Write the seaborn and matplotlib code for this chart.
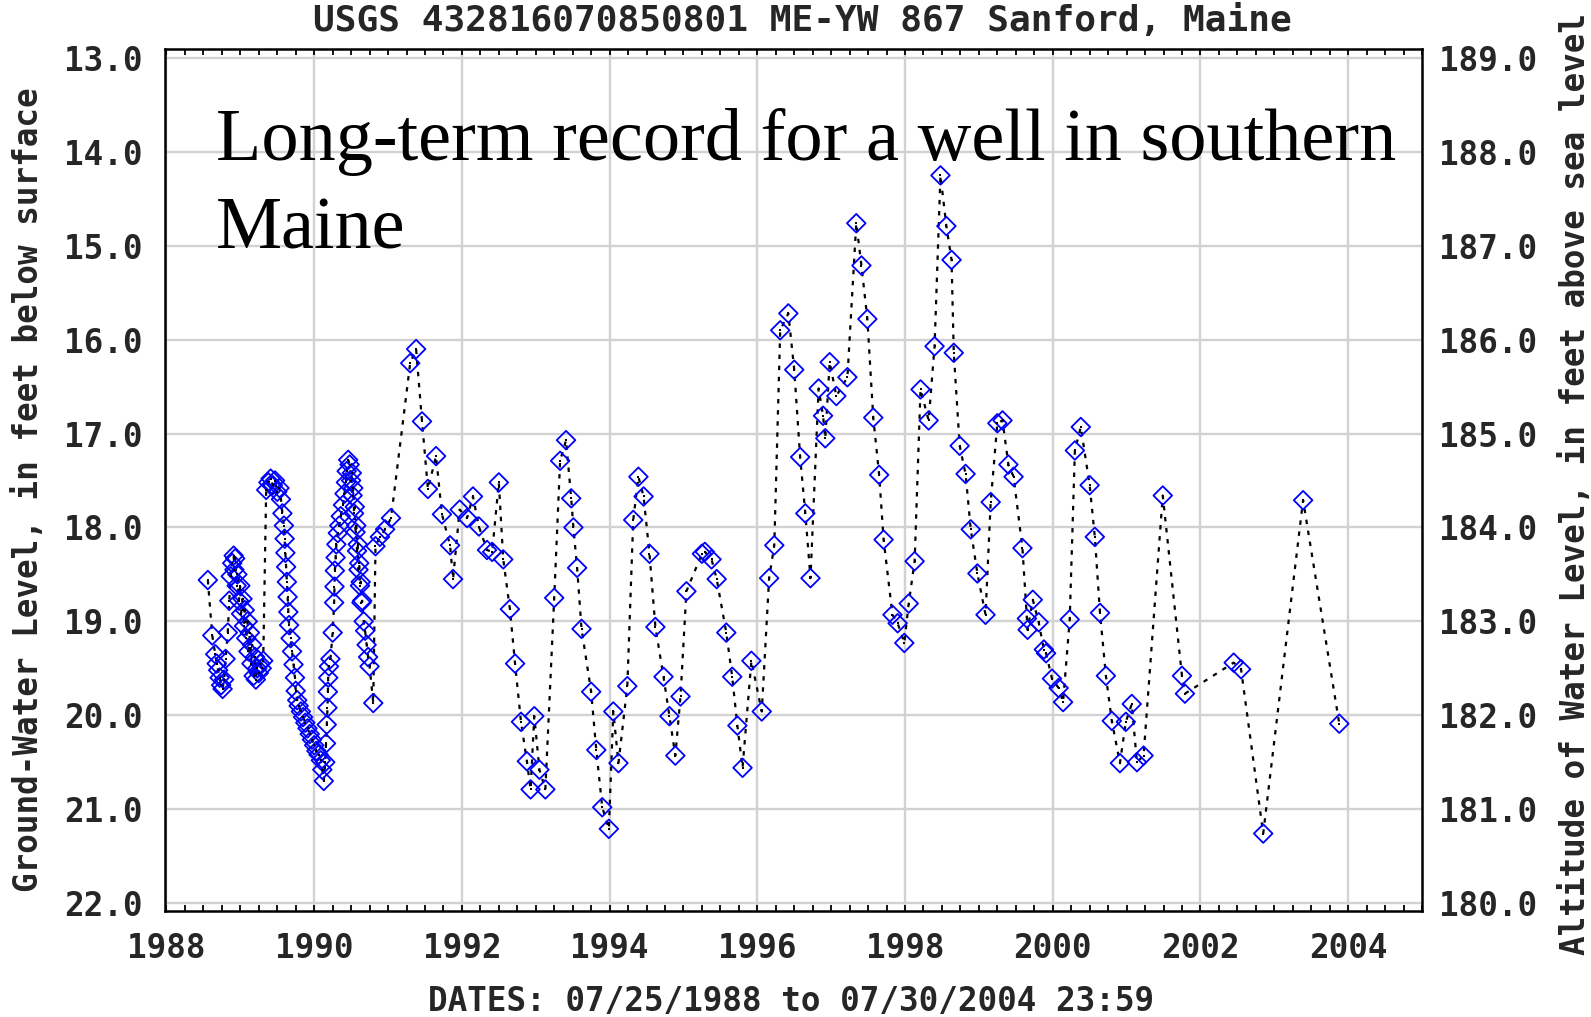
import numpy as np
import pandas as pd
import matplotlib
matplotlib.use("Agg")
import matplotlib.pyplot as plt
import seaborn as sns
from matplotlib.ticker import MultipleLocator

# ---------------- data (decimal year, depth below land surface in ft) ----------------
# 1988-1989 early record
dates_88 = [1988.56, 1988.62, 1988.66, 1988.68, 1988.70, 1988.72, 1988.74, 1988.76, 1988.78, 1988.80, 1988.83,
            1988.85, 1988.87, 1988.89, 1988.91, 1988.92, 1988.93, 1988.95, 1988.96, 1988.98, 1989.00,
            1989.01, 1989.03, 1989.05, 1989.06, 1989.08, 1989.10, 1989.11, 1989.13, 1989.15, 1989.16,
            1989.18, 1989.20, 1989.21, 1989.23, 1989.25, 1989.27, 1989.29, 1989.31]
depth_88 = [18.56, 19.15, 19.35, 19.45, 19.52, 19.60, 19.68, 19.72, 19.62, 19.40, 19.12,
            18.78, 18.52, 18.38, 18.30, 18.45, 18.33, 18.62, 18.50, 18.78, 18.62,
            18.92, 18.76, 19.05, 18.88, 19.18, 19.00, 19.32, 19.12, 19.45, 19.25,
            19.58, 19.38, 19.62, 19.50, 19.55, 19.45, 19.50, 19.42]

# 1989 high, decline to early 1990 low
dates_89 = [1989.35, 1989.38, 1989.41, 1989.44, 1989.47, 1989.50, 1989.53, 1989.55, 1989.57, 1989.59,
            1989.60, 1989.61, 1989.62, 1989.63, 1989.64, 1989.65, 1989.66, 1989.68, 1989.70, 1989.72,
            1989.74, 1989.75, 1989.77, 1989.79, 1989.82, 1989.85, 1989.88, 1989.91, 1989.94, 1989.97,
            1990.00, 1990.03, 1990.06, 1990.09, 1990.11, 1990.13]
depth_89 = [17.60, 17.52, 17.48, 17.55, 17.50, 17.62, 17.58, 17.70, 17.85, 17.98,
            18.12, 18.27, 18.42, 18.58, 18.74, 18.90, 19.04, 19.18, 19.32, 19.46,
            19.60, 19.74, 19.84, 19.90, 19.96, 20.02, 20.08, 20.14, 20.20, 20.26,
            20.32, 20.38, 20.42, 20.48, 20.58, 20.70]

# 1990 spring rise and decline
dates_90 = [1990.15, 1990.16, 1990.17, 1990.18, 1990.185, 1990.19, 1990.20, 1990.22, 1990.25, 1990.27,
            1990.275, 1990.28, 1990.29, 1990.30, 1990.32, 1990.34, 1990.36, 1990.39, 1990.41, 1990.43,
            1990.44, 1990.46,
            1990.48, 1990.50, 1990.51, 1990.52, 1990.53, 1990.54, 1990.55, 1990.56, 1990.57, 1990.58,
            1990.59, 1990.60, 1990.61, 1990.62, 1990.63, 1990.64, 1990.65, 1990.67, 1990.69, 1990.71,
            1990.73, 1990.75, 1990.80,
            1990.83, 1990.89, 1990.96, 1991.04]
depth_90 = [20.50, 20.30, 20.10, 19.92, 19.75, 19.60, 19.48, 19.40, 19.12, 18.80,
            18.63, 18.46, 18.32, 18.18, 18.06, 17.98, 17.88, 17.76, 17.64, 17.52,
            17.40, 17.28,
            17.33, 17.50, 17.42, 17.66, 17.58, 17.85, 17.78, 18.05, 17.98, 18.25,
            18.18, 18.45, 18.38, 18.62, 18.58, 18.80, 18.78, 19.00, 19.10, 19.25,
            19.38, 19.48, 19.87,
            18.20, 18.10, 18.02, 17.90]

dates_91_96 = [1991.30, 1991.38, 1991.46, 1991.54, 1991.65, 1991.73, 1991.84, 1991.88, 1991.97, 1992.07,
               1992.15, 1992.23, 1992.34, 1992.41, 1992.50, 1992.56, 1992.65, 1992.72, 1992.80, 1992.88,
               1992.93, 1992.98, 1993.05, 1993.13, 1993.25, 1993.33, 1993.41, 1993.48, 1993.51, 1993.56,
               1993.62, 1993.75, 1993.82, 1993.90, 1993.99, 1994.05, 1994.12, 1994.24, 1994.32, 1994.39,
               1994.46, 1994.54, 1994.62, 1994.73, 1994.81, 1994.89, 1994.96, 1995.04, 1995.25, 1995.29,
               1995.38, 1995.45, 1995.58, 1995.66, 1995.73, 1995.80, 1995.92, 1996.06]
depth_91_96 = [16.25, 16.10, 16.87, 17.59, 17.24, 17.86, 18.19, 18.55, 17.81, 17.90,
               17.67, 17.99, 18.24, 18.26, 17.52, 18.34, 18.87, 19.45, 20.07, 20.49,
               20.79, 20.01, 20.58, 20.79, 18.75, 17.29, 17.07, 17.69, 18.00, 18.43,
               19.08, 19.75, 20.37, 20.98, 21.21, 19.96, 20.51, 19.69, 17.92, 17.46,
               17.67, 18.28, 19.06, 19.59, 20.01, 20.43, 19.80, 18.68, 18.28, 18.26,
               18.34, 18.55, 19.12, 19.59, 20.11, 20.56, 19.42, 19.96]

dates_96_00 = [1996.16, 1996.23, 1996.31, 1996.42, 1996.50, 1996.58, 1996.65, 1996.72, 1996.83, 1996.89,
               1996.92, 1996.98, 1997.07, 1997.22, 1997.34, 1997.41, 1997.49, 1997.57, 1997.65, 1997.71,
               1997.83, 1997.90, 1997.99, 1998.05, 1998.13, 1998.21, 1998.32, 1998.40, 1998.48, 1998.56,
               1998.63, 1998.66, 1998.74, 1998.82, 1998.89, 1998.98, 1999.09, 1999.16, 1999.25, 1999.32,
               1999.40, 1999.47, 1999.59, 1999.65, 1999.66, 1999.73, 1999.81, 1999.88, 1999.91, 1999.99]
depth_96_00 = [18.54, 18.19, 15.90, 15.72, 16.32, 17.25, 17.85, 18.54, 16.52, 16.81,
               17.05, 16.24, 16.60, 16.40, 14.76, 15.21, 15.78, 16.83, 17.44, 18.13,
               18.93, 19.02, 19.23, 18.81, 18.36, 16.53, 16.86, 16.07, 14.25, 14.79,
               15.15, 16.14, 17.13, 17.43, 18.02, 18.49, 18.93, 17.73, 16.89, 16.86,
               17.33, 17.46, 18.22, 18.97, 19.09, 18.77, 19.01, 19.30, 19.34, 19.61]

dates_00_04 = [2000.08, 2000.14, 2000.23, 2000.30, 2000.38, 2000.50, 2000.57, 2000.64, 2000.72, 2000.80,
               2000.91, 2000.99, 2001.07, 2001.14, 2001.23, 2001.49, 2001.75, 2001.79, 2002.45, 2002.55,
               2002.85, 2003.39, 2003.88]
depth_00_04 = [19.71, 19.86, 18.98, 17.18, 16.93, 17.55, 18.10, 18.91, 19.58, 20.06,
               20.51, 20.07, 19.88, 20.50, 20.43, 17.66, 19.58, 19.77, 19.44, 19.51,
               21.26, 17.71, 20.09]

LAND_SURFACE_ALT = 202.0  # ft above sea level (13.0 below surface == 189.0 altitude)

left_ticks = [13.0, 14.0, 15.0, 16.0, 17.0, 18.0, 19.0, 20.0, 21.0, 22.0]
right_ticks = [180.0, 181.0, 182.0, 183.0, 184.0, 185.0, 186.0, 187.0, 188.0, 189.0]
year_ticks = [1988, 1990, 1992, 1994, 1996, 1998, 2000, 2002, 2004]

df = pd.DataFrame({
    "year": np.concatenate([dates_88, dates_89, dates_90, dates_91_96, dates_96_00, dates_00_04]),
    "depth": np.concatenate([depth_88, depth_89, depth_90, depth_91_96, depth_96_00, depth_00_04]),
})

# ---------------- figure ----------------
sns.set_theme(style="white")
plt.rcParams["font.family"] = ["DejaVu Sans Mono", "DejaVu Sans"]

W, H = 1591, 1017
fig = plt.figure(figsize=(W / 100, H / 100), dpi=100)
L, R, T, B = 165, 1422, 49, 911
ax = fig.add_axes([L / W, 1 - B / H, (R - L) / W, (B - T) / H])

FS = 23.5

sns.lineplot(data=df, x="year", y="depth", sort=False, estimator=None, color="black",
             lw=1.6, linestyle=(0, (2.0, 3.0)), ax=ax, zorder=2)
sns.scatterplot(data=df, x="year", y="depth", marker="D", s=90, ax=ax, zorder=3,
                linewidth=1.3)
pc = ax.collections[-1]
pc.set_facecolor("none")
pc.set_edgecolor("#0000ff")
sns.scatterplot(data=df, x="year", y="depth", marker="s", s=4, color="black",
                linewidth=0, ax=ax, zorder=4)

ax.set_xlim(1987.98, 2005.0)
ax.set_ylim(22.085, 12.904)

ax.set_xticks(year_ticks)
ax.set_xticklabels([str(y) for y in year_ticks], fontsize=FS, fontweight="bold")
ax.xaxis.set_minor_locator(MultipleLocator(0.25))
ax.tick_params(axis="x", which="both", direction="in", top=True, bottom=True,
               length=4, width=1.3, color="black", pad=15)
ax.set_yticks(left_ticks)
ax.set_yticklabels([f"{v:.1f}" for v in left_ticks], fontsize=FS, fontweight="bold")
ax.tick_params(axis="y", which="both", length=0, pad=16)

ax.grid(True, which="major", color="#d2d2d2", lw=1.7)
ax.set_axisbelow(True)
ax.set_xlabel("")
ax.set_ylabel("")
for s in ax.spines.values():
    s.set_visible(True)
    s.set_color("black")
    s.set_linewidth(1.8)

ax2 = ax.twinx()
ax2.set_ylim(LAND_SURFACE_ALT - 22.085, LAND_SURFACE_ALT - 12.904)
ax2.set_yticks(right_ticks)
ax2.set_yticklabels([f"{v:.1f}" for v in right_ticks], fontsize=FS, fontweight="bold")
ax2.tick_params(axis="y", length=0, pad=12)
ax2.grid(False)
for s in ax2.spines.values():
    s.set_visible(False)

# ---------------- texts ----------------
fig.text(28.5 / W, 1 - 490 / H, "Ground-Water Level, in feet below surface", rotation=90,
         ha="center", va="center", fontsize=FS, fontweight="bold")
fig.text(1575 / W, 1 - 484 / H, "Altitude of Water Level, in feet above sea level", rotation=90,
         ha="center", va="center", fontsize=FS, fontweight="bold")
fig.text(791 / W, 1 - 1001 / H, "DATES: 07/25/1988 to 07/30/2004 23:59",
         ha="center", va="center", fontsize=FS, fontweight="bold")
fig.text(802 / W, 1 - 31 / H, "USGS 432816070850801 ME-YW 867 Sanford, Maine",
         ha="center", va="baseline", fontsize=26, fontweight="bold")

fig.text(216 / W, 1 - 160 / H, "Long-term record for a well in southern",
         ha="left", va="baseline", fontsize=53.5, family=["Liberation Serif", "DejaVu Serif"],
         color="black", zorder=10)
fig.text(216 / W, 1 - 248.5 / H, "Maine",
         ha="left", va="baseline", fontsize=53.5, family=["Liberation Serif", "DejaVu Serif"],
         color="black", zorder=10)

fig.savefig("out.png", dpi=100)
